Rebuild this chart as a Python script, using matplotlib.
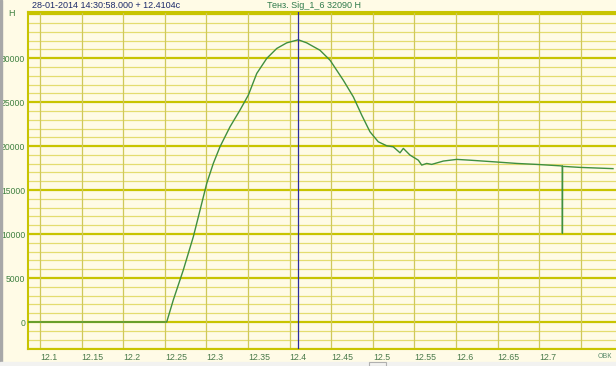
import matplotlib
matplotlib.use("Agg")
import matplotlib.pyplot as plt
from matplotlib.patches import Rectangle
import numpy as np

# time axis (s) and strain gauge force (N)
t = [12.086, 12.2523, 12.2602, 12.2722, 12.2843, 12.2923, 12.3004, 12.3083,
     12.3163, 12.3284, 12.3404, 12.3504, 12.3605, 12.3725, 12.3845, 12.3965,
     12.4104, 12.4206, 12.4365, 12.4486, 12.4645, 12.4766, 12.4867, 12.4966,
     12.5066, 12.5167, 12.5246, 12.5327, 12.5367, 12.5447, 12.5547, 12.5588,
     12.5648, 12.5708, 12.5847, 12.6008, 12.6168, 12.6448, 12.6730, 12.6970,
     12.7250, 12.7278, 12.7279, 12.7281, 12.7490, 12.7887]
force = [0, 0, 2500, 5900, 9700, 12700, 15760, 18030,
         19920, 22200, 24100, 25800, 28260, 29970, 31100, 31740,
         32090, 31740, 30900, 29770, 27500, 25600, 23520, 21630,
         20490, 20040, 19920, 19240, 19740, 18980, 18400, 17840,
         18030, 17920, 18300, 18490, 18400, 18220, 18030, 17920,
         17760, 17740, 10100, 17700, 17580, 17440]

cursor_t = 12.4104
cursor_val = 32090
xticks = [12.1, 12.15, 12.2, 12.25, 12.3, 12.35, 12.4, 12.45, 12.5, 12.55, 12.6, 12.65, 12.7, 12.75]
xlabels = ["12.1", "12.15", "12.2", "12.25", "12.3", "12.35", "12.4", "12.45", "12.5", "12.55", "12.6", "12.65", "12.7", ""]
yticks = [0, 5000, 10000, 15000, 20000, 25000, 30000]

bg = "#fffbe6"
green = "#3f8f3f"
yel = "#c8c400"

plt.rcParams["font.family"] = ["Liberation Sans", "DejaVu Sans"]

fig = plt.figure(figsize=(6.16, 3.66), dpi=100, facecolor=bg)
W, H = 616, 366
ax = fig.add_axes([28 / W, 1 - 349 / H, (616 - 28) / W, (349 - 12) / H])
ax.set_facecolor(bg)

x0 = 12.1 - 12 / 832
x1 = 12.1 + 576 / 832
ax.set_xlim(x0, x1)
ax.set_ylim(-3070, 35250)

# grid
for v in np.arange(-3000, 35001, 1000):
    if v % 5000 == 0:
        ax.axhline(v, color=yel, lw=1.6, zorder=1)
    else:
        ax.axhline(v, color="#e4dc70", lw=0.9, zorder=1)
for v in xticks:
    ax.axvline(v, color="#cfc85a", lw=0.9, zorder=1)

ax.plot(t, force, color=green, lw=1.0, zorder=3)
ax.axvline(cursor_t, color="#2b2ba0", lw=0.9, zorder=4)

ax.set_xticks(xticks)
ax.set_xticklabels(xlabels, fontsize=6.3, color="#4a7a4a")
for lb in ax.get_xticklabels():
    lb.set_ha("left")
ax.set_yticks(yticks)
ax.set_yticklabels([str(v) for v in yticks], fontsize=6.2, color="#3f8040")
ax.tick_params(axis="y", length=0, pad=2)
ax.tick_params(axis="x", length=0, pad=3)

for s in ax.spines.values():
    s.set_color(yel)
    s.set_linewidth(1.5)
ax.spines["right"].set_visible(False)

fig.text(32 / W, 1 - 5 / H, "28-01-2014 14:30:58.000 + 12.4104с", fontsize=6.5,
         color="#1c2a6a", va="center", ha="left")
fig.text(267 / W, 1 - 5 / H, "Тенз. Sig_1_6 %d Н" % cursor_val, fontsize=6.5,
         color="#2e7a4a", va="center", ha="left")
fig.text(8 / W, 1 - 14 / H, "Н", fontsize=6.5, color="#3f8040", va="center", ha="left")
fig.text(598 / W, 1 - 356 / H, "ОВК", fontsize=5, color="#5a8a6a", va="center", ha="left")

# window chrome
fig.patches.append(Rectangle((0, 0), 2 / W, 1, transform=fig.transFigure,
                             color="#a8a8a8", zorder=5))
fig.patches.append(Rectangle((0, 0), 1, 4 / H, transform=fig.transFigure,
                             color="#f2f2f0", zorder=5))
fig.patches.append(Rectangle((369 / W, 0), 17 / W, 4 / H, transform=fig.transFigure,
                             fill=False, ec="#b0b0b0", lw=0.8, zorder=6))

fig.savefig("out.png", dpi=100, facecolor=bg)
